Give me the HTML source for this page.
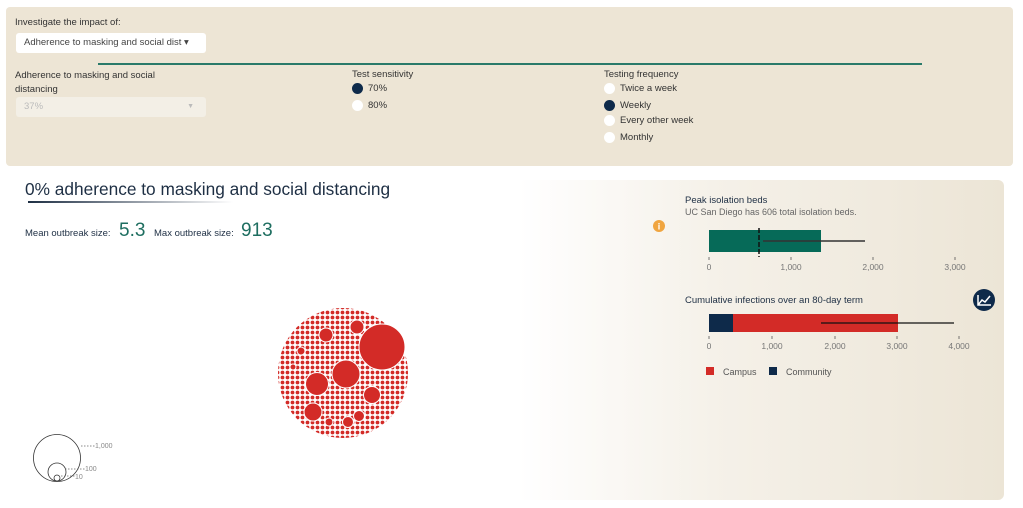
<!DOCTYPE html>
<html><head><style>
body{margin:0;width:1023px;height:508px;background:#fff;font-family:"Liberation Sans",sans-serif;position:relative;overflow:hidden;color:#333}
.a{position:absolute;white-space:nowrap}
.top{position:absolute;left:6px;top:7px;width:1007px;height:159px;background:#ede5d5;border-radius:4px}
.rad{position:absolute;width:11px;height:11px;border-radius:50%;background:#fff}
.rad.on{background:#0e2a4a}
.f{font-size:9.5px;color:#333}
</style></head><body>
<div class="top"></div>
<div class="a f" style="left:15px;top:17px">Investigate the impact of:</div>
<div class="a" style="left:16px;top:33px;width:190px;height:20px;background:#fff;border-radius:3px;font-size:9.5px;line-height:20px;color:#444;padding-left:8px;box-sizing:border-box">Adherence to masking and social dist ▾</div>
<div class="a" style="left:98px;top:63px;width:824px;height:2px;background:#2a7a6a"></div>
<div class="a f" style="left:15px;top:69px;line-height:14px">Adherence to masking and social<br>distancing</div>
<div class="a" style="left:16px;top:97px;width:190px;height:20px;background:#f3efe6;border-radius:3px;font-size:9.5px;line-height:20px;color:#bbb;padding-left:8px;box-sizing:border-box">37%<span style="position:absolute;right:12px;font-size:7px">▼</span></div>
<div class="a f" style="left:352px;top:69px">Test sensitivity</div>
<div class="rad on" style="left:352px;top:83px"></div><div class="a f" style="left:368px;top:83px">70%</div>
<div class="rad" style="left:352px;top:100px"></div><div class="a f" style="left:368px;top:100px">80%</div>
<div class="a f" style="left:604px;top:69px">Testing frequency</div>
<div class="rad" style="left:604px;top:83px"></div><div class="a f" style="left:620px;top:83px">Twice a week</div>
<div class="rad on" style="left:604px;top:100px"></div><div class="a f" style="left:620px;top:100px">Weekly</div>
<div class="rad" style="left:604px;top:115px"></div><div class="a f" style="left:620px;top:115px">Every other week</div>
<div class="rad" style="left:604px;top:132px"></div><div class="a f" style="left:620px;top:132px">Monthly</div>

<div class="a" style="left:518px;top:180px;width:486px;height:320px;border-radius:6px;background:linear-gradient(90deg,#fff 0%,#f5f1e9 40%,#ece5d6 100%)"></div>

<div class="a" style="left:25px;top:179px;font-size:17.3px;color:#1e2f44">0% adherence to masking and social distancing</div>
<div class="a" style="left:28px;top:201px;width:205px;height:2px;background:linear-gradient(90deg,#1e2f44,rgba(30,47,68,0))"></div>
<div class="a" style="left:25px;top:228px;font-size:9.5px;color:#1e2f44">Mean outbreak size:</div>
<div class="a" style="left:119px;top:220px;font-size:19px;color:#1e6e60">5.3</div>
<div class="a" style="left:154px;top:228px;font-size:9.5px;color:#1e2f44">Max outbreak size:</div>
<div class="a" style="left:241px;top:220px;font-size:19px;color:#1e6e60">913</div>

<svg class="a" style="left:0;top:0" width="1023" height="508">
<defs>
<pattern id="p" width="5" height="5" patternUnits="userSpaceOnUse"><circle cx="2.5" cy="2.5" r="1.9" fill="#d32b27"/></pattern>
</defs>
<circle cx="343" cy="373" r="65" fill="url(#p)"/>
<g fill="#d32b27" stroke="#fff" stroke-width="1">
<circle cx="382" cy="347" r="23"/><circle cx="346" cy="374" r="14"/><circle cx="317" cy="384" r="11.5"/>
<circle cx="372" cy="395" r="8.5"/><circle cx="313" cy="412" r="9"/><circle cx="326" cy="335" r="7"/>
<circle cx="357" cy="327" r="7"/><circle cx="348" cy="422" r="5.5"/><circle cx="359" cy="416" r="5.5"/>
<circle cx="301" cy="351" r="4"/><circle cx="329" cy="422" r="4"/><circle cx="293" cy="367" r="3"/>
</g>
<g fill="none" stroke="#333" stroke-width="0.8">
<circle cx="57" cy="458" r="23.5"/><circle cx="57" cy="472" r="9"/><circle cx="57" cy="478" r="3"/>
</g>
<g stroke="#666" stroke-width="0.7" stroke-dasharray="1.5 1.5">
<line x1="81" y1="446" x2="95" y2="446"/><line x1="65" y1="469" x2="85" y2="469"/><line x1="61" y1="476" x2="75" y2="476"/>
</g>
<g font-size="7" fill="#888" font-family="Liberation Sans"><text x="95" y="448">1,000</text><text x="85" y="471">100</text><text x="75" y="479">10</text></g>

<circle cx="659" cy="226" r="6" fill="#f0a540"/><text x="659" y="229.5" font-size="9" font-weight="bold" fill="#fff" text-anchor="middle">i</text>
<text x="685" y="203" font-size="9.5" fill="#1e2f44">Peak isolation beds</text>
<text x="685" y="215" font-size="9" fill="#666">UC San Diego has 606 total isolation beds.</text>
<rect x="709" y="230" width="112" height="22" fill="#066a58"/>
<line x1="759" y1="228" x2="759" y2="257" stroke="#111" stroke-width="1.5" stroke-dasharray="5 2"/>
<line x1="763" y1="241" x2="865" y2="241" stroke="#333" stroke-width="1.5"/>
<g font-size="8.5" fill="#777" text-anchor="middle" stroke="none">
<text x="709" y="270">0</text><text x="791" y="270">1,000</text><text x="873" y="270">2,000</text><text x="955" y="270">3,000</text>
<text x="709" y="349">0</text><text x="772" y="349">1,000</text><text x="835" y="349">2,000</text><text x="897" y="349">3,000</text><text x="959" y="349">4,000</text>
</g>
<g stroke="#555" stroke-width="0.8"><line x1="709" y1="257" x2="709" y2="260"/><line x1="791" y1="257" x2="791" y2="260"/><line x1="873" y1="257" x2="873" y2="260"/><line x1="955" y1="257" x2="955" y2="260"/>
<line x1="709" y1="336" x2="709" y2="339"/><line x1="772" y1="336" x2="772" y2="339"/><line x1="835" y1="336" x2="835" y2="339"/><line x1="897" y1="336" x2="897" y2="339"/><line x1="959" y1="336" x2="959" y2="339"/></g>
<text x="685" y="303" font-size="9.5" fill="#1e2f44">Cumulative infections over an 80-day term</text>
<circle cx="984" cy="300" r="11" fill="#0e2a4a"/>
<path d="M978 305 L982 300 L985 302 L990 296 M978 295 V305 H991" stroke="#fff" stroke-width="1.5" fill="none"/>
<rect x="709" y="314" width="24" height="18" fill="#0e2a4a"/>
<rect x="733" y="314" width="165" height="18" fill="#d32b27"/>
<line x1="821" y1="323" x2="954" y2="323" stroke="#111" stroke-width="1.2"/>
<rect x="706" y="367" width="8" height="8" fill="#d32b27"/><text x="723" y="375" font-size="9" fill="#555">Campus</text>
<rect x="769" y="367" width="8" height="8" fill="#0e2a4a"/><text x="786" y="375" font-size="9" fill="#555">Community</text>
</svg>
</body></html>
